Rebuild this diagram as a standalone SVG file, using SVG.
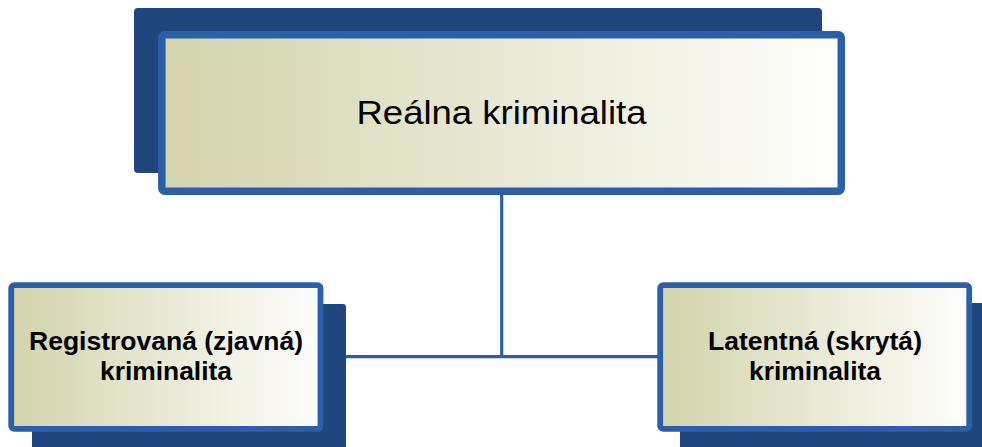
<svg xmlns="http://www.w3.org/2000/svg" width="982" height="447" viewBox="0 0 982 447">
<defs>
<linearGradient id="g" x1="0" y1="0" x2="1" y2="0">
<stop offset="0" stop-color="#d3d3ac"/>
<stop offset="1" stop-color="#fefefc"/>
</linearGradient>
</defs>
<style>
.sh{fill:#20477d;}
.bx{fill:url(#g);stroke:#2b5fa8;}
.ln{stroke:#2b5fa8;stroke-width:3.2;fill:none;}
.t1{font-family:"Liberation Sans",Arial,sans-serif;font-size:34px;fill:#000;text-anchor:middle;}
.t2{font-family:"Liberation Sans",Arial,sans-serif;font-size:25.5px;font-weight:bold;fill:#000;text-anchor:middle;}
</style>
<g id="connectors">
<line class="ln" x1="501.7" y1="192" x2="501.7" y2="356.7"/>
<line class="ln" x1="323" y1="356.7" x2="658" y2="356.7"/>
</g>
<g id="node-top">
<rect class="sh" x="134" y="8" width="688" height="165" rx="4"/>
<rect class="bx" x="161.8" y="34.8" width="679.5" height="156.5" rx="3" stroke-width="7.5"/>
<text class="t1" x="501.5" y="124" textLength="290" lengthAdjust="spacingAndGlyphs">Reálna kriminalita</text>
</g>
<g id="node-left">
<rect class="sh" x="32" y="304" width="314" height="150" rx="3"/>
<rect class="bx" x="11.2" y="285.2" width="309.3" height="143.6" rx="3" stroke-width="5.8"/>
<text class="t2" x="166" y="350" textLength="274" lengthAdjust="spacingAndGlyphs">Registrovaná (zjavná)</text>
<text class="t2" x="166" y="380" textLength="132" lengthAdjust="spacingAndGlyphs">kriminalita</text>
</g>
<g id="node-right">
<rect class="sh" x="680" y="303" width="320" height="150" rx="3"/>
<rect class="bx" x="660.2" y="285.2" width="309" height="143.6" rx="3" stroke-width="5.8"/>
<text class="t2" x="815" y="350" textLength="214" lengthAdjust="spacingAndGlyphs">Latentná (skrytá)</text>
<text class="t2" x="815" y="380" textLength="132" lengthAdjust="spacingAndGlyphs">kriminalita</text>
</g>
</svg>
